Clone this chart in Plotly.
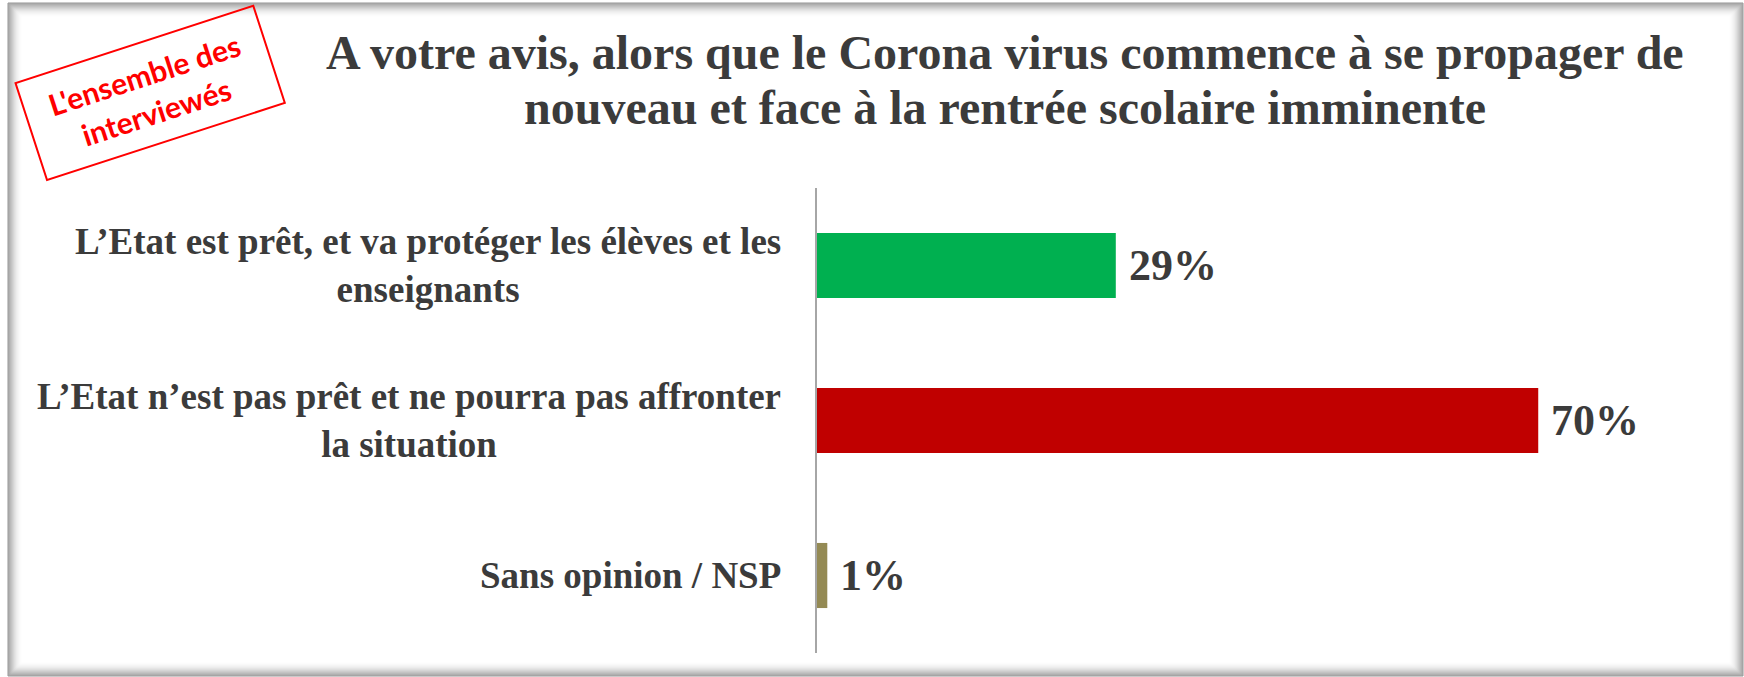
import plotly.graph_objects as go

# ---- data ----
categories = [
    "L’Etat est prêt, et va protéger les élèves et les<br>enseignants",
    "L’Etat n’est pas prêt et ne pourra pas affronter<br>la situation",
    "Sans opinion / NSP",
]
values = [29, 70, 1]
value_labels = ["29%", "70%", "1%"]
bar_colors = ["#00B050", "#C00000", "#948A54"]
title_lines = [
    "A votre avis, alors que le Corona virus commence à se propager de",
    "nouveau et face à la rentrée scolaire imminente",
]
stamp_text = "L'ensemble des<br>interviewés"

# ---- geometry ----
W, H = 1744, 677
ML, MR, MT, MB = 817, 44, 188, 24
PW, PH = W - ML - MR, H - MT - MB
XMAX = 85.7


def px(xp):
    return (xp - ML) / PW


def py(yp):
    return (H - MB - yp) / PH


TEXT = "#3b3b3b"
SERIF = "Liberation Serif, Times New Roman, serif"

fig = go.Figure()
fig.add_trace(go.Bar(
    x=values, y=categories, orientation="h",
    marker=dict(color=bar_colors, line=dict(width=0)),
    width=0.42, hoverinfo="skip",
))

annotations = []
# value labels
for c, v, t in zip(categories, values, value_labels):
    annotations.append(dict(
        x=v, y=c, xref="x", yref="y", text=f"<b>{t}</b>", showarrow=False,
        xanchor="left", yanchor="middle", xshift=11,
        font=dict(family=SERIF, size=44, color=TEXT),
    ))
# category labels
for c in categories:
    annotations.append(dict(
        x=0, y=c, xref="paper", yref="y", text=f"<b>{c}</b>", showarrow=False,
        xanchor="right", yanchor="middle", align="center", xshift=-34,
        font=dict(family=SERIF, size=37, color=TEXT),
    ))
# title lines
for i, line in enumerate(title_lines):
    annotations.append(dict(
        x=px(1005), y=py(52 + 56 * i), xref="paper", yref="paper",
        text=f"<b>{line}</b>", showarrow=False,
        xanchor="center", yanchor="middle",
        font=dict(family=SERIF, size=48, color=TEXT),
    ))
# stamp
annotations.append(dict(
    x=px(150), y=py(92.5), xref="paper", yref="paper",
    text=f"<b>{stamp_text}</b>", showarrow=False,
    xanchor="center", yanchor="middle", textangle=-18,
    width=244, height=96, borderpad=2,
    bordercolor="#FF0000", borderwidth=2, bgcolor="rgba(255,255,255,0)",
    font=dict(family="Lato, Open Sans, sans-serif", size=30, color="#FF0000"),
))

# inset shadow frame
shapes = []
N = 15
for i in range(N):
    a = 0.42 * (1 - i / N) ** 2
    shapes.append(dict(
        type="rect", xref="paper", yref="paper", layer="below",
        x0=px(8 + i), x1=px(1743 - i), y0=py(676 - i), y1=py(3 + i),
        line=dict(color=f"rgba(0,0,0,{a:.3f})", width=1),
    ))

fig.update_layout(
    width=W, height=H,
    margin=dict(l=ML, r=MR, t=MT, b=MB, pad=0),
    paper_bgcolor="white", plot_bgcolor="rgba(0,0,0,0)",
    showlegend=False,
    bargap=0.58,
    xaxis=dict(range=[0, XMAX], visible=False, fixedrange=True),
    yaxis=dict(
        categoryorder="array", categoryarray=categories, autorange="reversed",
        showticklabels=False, ticks="", showgrid=False, zeroline=False,
        showline=True, linecolor="#a6a6a6", linewidth=1.5,
    ),
    annotations=annotations,
    shapes=shapes,
)

fig.write_html(
    "out.html",
    config={"displayModeBar": False},
    post_script="document.body.style.margin='0';document.body.style.overflow='hidden';",
)
